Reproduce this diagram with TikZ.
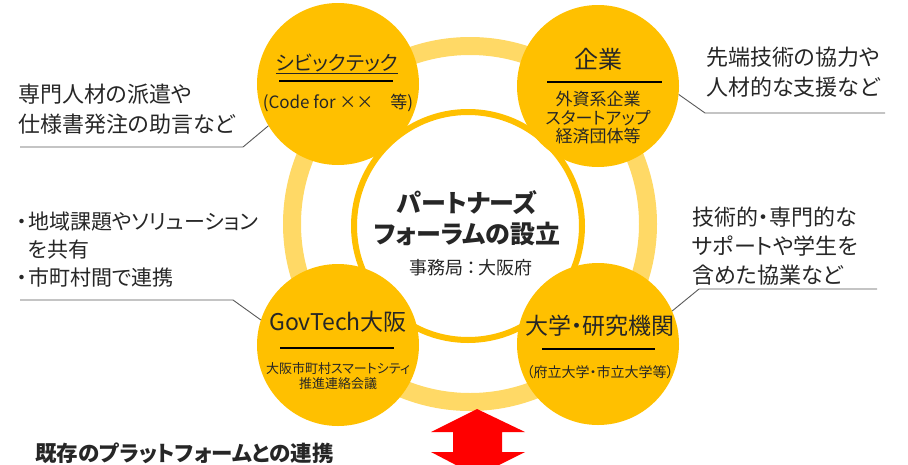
\documentclass[tikz,border=0pt]{standalone}
\usepackage{fontspec}
\setmainfont{Noto Sans CJK JP}[RawFeature=+palt]
\definecolor{gold}{HTML}{FFC000}
\definecolor{paleGold}{HTML}{FFD966}
\definecolor{leaderGray}{HTML}{595959}
\begin{document}
\begin{tikzpicture}[x=1pt, y=-1pt,
    every node/.style={inner sep=0pt, text=black!85},
    member/.style={circle, fill=gold, minimum size=162pt},
    note/.style={font=\fontsize{22}{30}\selectfont, align=left, anchor=west},
    bar/.style={line width=2.4pt, black},
    leader/.style={draw=leaderGray, line width=0.9pt}]
    \useasboundingbox (0,0) rectangle (908,464);
    % ring and circles
    \node (ring) [circle, draw=paleGold, line width=18pt, minimum size=356pt] at (470,224) {};
    \node (hub) [circle, draw=gold, fill=white, line width=6pt, minimum size=228pt] at (468,226) {};
    \node (civic) [member] at (338,84) {};
    \node (firm) [member] at (598,86) {};
    \node (gov) [member] at (338,345) {};
    \node (univ) [member] at (598,344) {};
    % hub text
    \node (title) [font=\fontsize{25}{31}\selectfont\bfseries, align=center] at (467,218) {パートナーズ\\フォーラムの設立};
    \node (office) [font=\fontsize{18}{20}\selectfont] at (471,268) {事務局\,：\,大阪府};
    % members
    \node (civicHead) [font=\fontsize{20}{24}\selectfont] at (337,64) {\underline{シビックテック}};
    \draw[bar] (279,81) -- (393,81);
    \node (civicSub) [font=\fontsize{17}{20}\selectfont] at (338,103) {(Code for ××　等)};
    \node (firmHead) [font=\fontsize{24}{28}\selectfont] at (598,59) {企業};
    \draw[bar] (547,82) -- (662,82);
    \node (firmSub) [font=\fontsize{17}{18.5}\selectfont, align=center] at (598,118) {外資系企業\\スタートアップ\\経済団体等};
    \node (govHead) [font=\fontsize{23}{28}\selectfont] at (338,322) {GovTech大阪};
    \draw[bar] (280,348) -- (394,348);
    \node (govSub) [font=\fontsize{13}{15.5}\selectfont, align=center] at (338,376) {大阪市町村スマートシティ\\推進連絡会議};
    \node (univHead) [font=\fontsize{23}{26}\selectfont] at (600,326) {大学・研究機関};
    \draw[bar] (542,349) -- (655,349);
    \node (univSub) [font=\fontsize{14}{16}\selectfont] at (600,372) {（府立大学・市立大学等）};
    % notes
    \node (noteCivic) [note] at (18,109) {専門人材の派遣や\\仕様書発注の助言など};
    \coordinate (c1a) at (20,147);
    \coordinate (c1b) at (243,147);
    \draw[leader] (c1a) -- (c1b) -- (civic.211);
    \node (noteFirm) [note] at (706,72) {先端技術の協力や\\人材的な支援など};
    \coordinate (c2a) at (885,113);
    \coordinate (c2b) at (705,113);
    \draw[leader] (c2a) -- (c2b) -- (firm.-6);
    \node (noteGov) [note, font=\fontsize{21}{28}\selectfont] at (16,250) {\makebox[12pt][c]{・}地域課題やソリューション\\\hspace*{12pt}を共有\\\makebox[12pt][c]{・}市町村間で連携};
    \coordinate (c3a) at (20,300);
    \coordinate (c3b) at (233,300);
    \draw[leader] (c3a) -- (c3b) -- (gov.162);
    \node (noteUniv) [note, font=\fontsize{22}{29}\selectfont] at (692,246) {技術的・専門的な\\サポートや学生を\\含めた協業など};
    \coordinate (c4a) at (877,289);
    \coordinate (c4b) at (699,289);
    \draw[leader] (c4a) -- (c4b) -- (univ.24);
    % existing platforms
    \node (bridge) [font=\fontsize{21.5}{24}\selectfont\bfseries, anchor=west] at (35,453) {既存のプラットフォームとの連携};
    \begin{scope}
        \clip (0,0) rectangle (908,464);
        \fill[red] (477,409) -- (525,432) -- (502,432) -- (502,452) -- (525,452) -- (477,476)
            -- (431,452) -- (453,452) -- (453,432) -- (431,432) -- cycle;
    \end{scope}
\end{tikzpicture}
\end{document}
